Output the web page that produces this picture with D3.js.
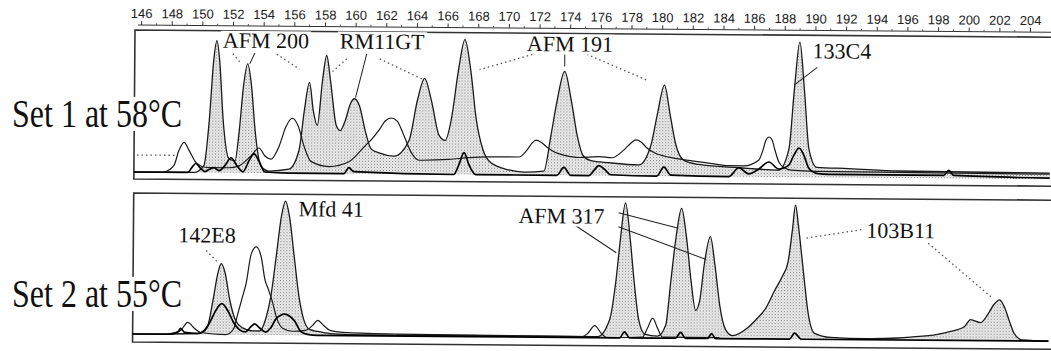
<!DOCTYPE html>
<html>
<head>
<meta charset="utf-8">
<script src="https://cdn.jsdelivr.net/npm/d3@7"></script>
<style>
  body { margin: 0; background: #fff; }
  svg { display: block; }
</style>
</head>
<body>
<svg id="chart" width="1051" height="351"></svg>
<script>
// fragment size ruler (bp)
const sizeTicks = [146, 148, 150, 152, 154, 156, 158, 160, 162, 164, 166, 168, 170, 172, 174,
  176, 178, 180, 182, 184, 186, 188, 190, 192, 194, 196, 198, 200, 202, 204];

const panelTitles = ['Set 1 at 58\u00B0C', 'Set 2 at 55\u00B0C'];

// traces: [size in bp, signal]
const set1Filled = [[145.61,0],[149.52,0],[150.17,7],[150.5,52],[150.76,112],[150.96,132],[151.15,112],[151.41,52],[151.81,14],[152.2,12],[152.46,42],[152.72,87],[152.98,109],[153.24,87],[153.5,42],[153.89,7],[154.41,2],[155.72,4],[156.37,23],[156.7,63],[157.02,91],[157.28,63],[157.55,48],[157.87,93],[158.13,118],[158.39,93],[158.79,48],[159.05,43],[159.37,53],[159.7,70],[159.96,75],[160.29,68],[160.68,43],[161.07,25],[161.59,21],[162.57,18],[163.55,34],[164.07,74],[164.53,96],[164.98,74],[165.5,39],[165.9,34],[166.29,55],[166.74,105],[167.14,135],[167.53,105],[167.92,55],[168.37,25],[168.9,12],[170.07,5],[171.05,3],[172.35,4],[172.81,41],[173.2,76],[173.66,104],[174.11,75],[174.51,40],[174.9,20],[175.42,15],[176.59,13],[178.55,11],[179.33,31],[179.72,61],[180.18,91],[180.57,61],[180.96,31],[181.49,16],[182.46,12],[185.07,9],[187.68,7],[188.33,28],[188.66,88],[188.99,135],[189.31,88],[189.64,28],[190.16,10],[192.25,9],[195.51,7],[205.36,6]];

const set1Outline = [[147.57,0],[148.22,7],[148.54,22],[148.87,30],[149.2,22],[149.65,10],[150.04,6],[150.5,5],[151.81,5],[152.46,7],[153.24,17],[153.76,25],[154.15,17],[154.55,14],[155.07,27],[155.52,47],[155.92,55],[156.31,47],[156.7,27],[157.15,12],[158.33,7],[159.63,12],[160.68,28],[161.07,34],[161.59,44],[161.98,53],[162.37,56],[162.76,53],[163.22,38],[163.68,22],[164.2,14],[166.16,15],[167.46,17],[168.77,18],[170.72,18],[171.24,25],[171.57,32],[171.83,35],[172.16,33],[172.55,28],[173.07,23],[173.72,20],[174.64,18],[175.94,19],[176.79,18],[177.57,26],[178.03,33],[178.35,36],[178.68,34],[179.07,28],[179.59,23],[180.51,19],[181.81,16],[183.31,13],[184.42,11],[185.4,11],[186.38,17],[186.64,27],[186.83,37],[187.03,40],[187.23,37],[187.42,27],[187.68,15],[188.07,9],[188.47,7],[190.16,6],[205.36,5]];

const set1Dark = [[145.61,0],[149.13,0],[149.39,5],[149.65,9],[149.91,5],[150.24,1],[150.5,3],[150.83,5],[151.15,2],[151.54,7],[151.94,15],[152.33,7],[152.72,1],[153.11,12],[153.44,19],[153.76,12],[154.15,1],[155.72,0],[159.31,0],[159.63,6],[159.96,2],[166.48,0],[166.81,10],[167.14,22],[167.46,10],[167.92,0],[173.2,0],[173.66,8],[174.11,0],[175.29,0],[175.61,5],[175.94,10],[176.33,6],[176.72,1],[179.72,0],[180.18,9],[180.64,1],[184.42,0],[185.07,9],[185.73,3],[186.38,8],[187.03,15],[187.68,8],[188.33,12],[188.66,22],[188.99,29],[189.31,22],[189.64,9],[190.16,4],[190.94,3],[198.45,3],[198.77,8],[199.1,3],[205.36,1]];

const set2Filled = [[145.61,0],[149.85,1],[150.5,9],[150.83,34],[151.15,62],[151.35,71],[151.61,62],[151.94,34],[152.33,14],[152.78,7],[153.44,4],[153.89,4],[154.28,16],[154.61,39],[154.94,79],[155.26,119],[155.52,134],[155.78,119],[156.11,79],[156.44,39],[156.76,16],[157.15,6],[157.68,4],[158.52,2],[160.94,1],[175.94,1],[176.72,18],[177.12,58],[177.38,98],[177.7,135],[178.03,98],[178.29,58],[178.62,18],[179.01,4],[179.85,2],[180.38,13],[180.7,58],[181.03,103],[181.36,130],[181.68,103],[182.01,58],[182.33,28],[182.59,38],[182.86,73],[183.25,102],[183.57,73],[183.9,33],[184.29,9],[184.75,3],[185.73,11],[186.38,21],[186.83,29],[187.49,49],[188.01,64],[188.33,77],[188.6,109],[188.79,134],[188.99,114],[189.18,89],[189.44,54],[189.64,29],[190.1,6],[191.14,2],[193.55,1],[195.51,2],[196.36,3],[198.12,6],[198.97,9],[199.88,14],[200.27,21],[200.92,18],[201.38,26],[201.77,36],[202.16,41],[202.49,33],[202.82,19],[203.14,7],[203.66,1],[205.36,0]];

const set2Outline = [[147.89,0],[148.74,4],[149.2,12],[149.65,6],[150.04,2],[151.68,0],[152.2,6],[152.46,21],[152.72,36],[152.98,51],[153.31,81],[153.63,88],[153.96,78],[154.22,55],[154.41,47],[154.68,35],[155.0,17],[155.39,7],[156.05,4],[156.89,5],[157.35,10],[157.68,15],[158.07,10],[158.52,5],[159.63,3],[162.89,2],[174.96,1],[175.29,4],[175.75,12],[176.2,4],[176.59,0],[178.88,1],[179.2,10],[179.53,20],[179.85,10],[180.18,1],[183.9,1]];

const set2Dark = [[145.61,0],[147.89,0],[148.54,2],[148.74,6],[149.0,2],[149.85,1],[150.31,4],[150.7,14],[151.02,24],[151.41,31],[151.81,24],[152.2,12],[152.59,5],[152.98,3],[153.31,8],[153.57,11],[153.89,7],[154.28,3],[154.61,7],[154.94,16],[155.26,20],[155.52,21],[155.85,19],[156.18,14],[156.57,4],[157.02,1],[157.68,0],[177.38,0],[177.7,6],[178.03,0],[181.03,0],[181.36,6],[181.68,0],[183.12,0],[183.38,5],[183.64,0],[188.47,0],[188.79,6],[189.25,0],[205.36,0]];

// marker names: text, size (bp) and signal of the text baseline
const set1Labels = [
  { text: 'AFM 200', bp: 151.35, v: 125 },
  { text: 'RM11GT', bp: 158.98, v: 125 },
  { text: 'AFM 191', bp: 171.18, v: 124 },
  { text: '133C4', bp: 189.83, v: 119 }
];
const set2Labels = [
  { text: '142E8', bp: 148.54, v: 92 },
  { text: 'Mfd 41', bp: 156.37, v: 119 },
  { text: 'AFM 317', bp: 170.72, v: 114 },
  { text: '103B11', bp: 193.42, v: 102 }
];

// leader lines from names to peaks
const set1Leaders = [
  { from: [152.0, 119], to: [152.46, 111], dash: true },
  { from: [153.44, 120], to: [153.11, 109], dash: false },
  { from: [154.87, 119], to: [156.37, 104], dash: true },
  { from: [159.44, 115], to: [158.52, 102], dash: true },
  { from: [160.74, 120], to: [160.03, 76], dash: false },
  { from: [161.59, 115], to: [164.39, 95], dash: true },
  { from: [171.83, 122], to: [168.11, 105], dash: true },
  { from: [173.66, 121], to: [173.66, 109], dash: false },
  { from: [174.83, 123], to: [179.01, 96], dash: true },
  { from: [190.14, 110], to: [188.64, 92], dash: false },
  { from: [145.8, 17], to: [148.35, 17], dash: true }
];
const set2Leaders = [
  { from: [150.37, 84], to: [151.15, 72], dash: true },
  { from: [177.25, 125], to: [181.16, 110], dash: false },
  { from: [177.25, 111], to: [182.99, 79], dash: false },
  { from: [174.44, 112], to: [177.12, 85], dash: false },
  { from: [193.1, 110], to: [189.44, 101], dash: true },
  { from: [197.47, 97], to: [201.58, 44], dash: true }
];

const W = 1051, H = 351;
const frameLeft = 135;
const serif = "'Liberation Serif', 'Times New Roman', serif";

const svg = d3.select('#chart');
svg.append('rect').attr('width', W).attr('height', H).attr('fill', '#fff');

const defs = svg.append('defs');
const pat = defs.append('pattern')
  .attr('id', 'stipple')
  .attr('width', 3).attr('height', 3)
  .attr('patternUnits', 'userSpaceOnUse');
pat.append('rect').attr('width', 3).attr('height', 3).attr('fill', '#ededed');
pat.append('rect').attr('x', 0).attr('y', 0).attr('width', 1).attr('height', 1).attr('fill', '#7a7a7a');
pat.append('rect').attr('x', 1.5).attr('y', 1.5).attr('width', 1).attr('height', 1).attr('fill', '#b0b0b0');

const x = d3.scaleLinear().domain([146, 204]).range([141, 1030]);

// the scanned figure is slightly tilted
const plot = svg.append('g').attr('transform', 'rotate(0.45,135,30)');

// ruler on top
const rulerY = 25;
plot.append('line')
  .attr('x1', frameLeft + 3).attr('x2', W + 10)
  .attr('y1', rulerY).attr('y2', rulerY)
  .attr('stroke', '#333').attr('stroke-width', 1);

const axisG = plot.append('g')
  .attr('transform', `translate(0,${rulerY})`)
  .call(d3.axisTop(x).tickValues(sizeTicks).tickSize(4).tickSizeOuter(0).tickPadding(3));
axisG.select('.domain').remove();
axisG.selectAll('.tick line').attr('stroke', '#333');
axisG.selectAll('.tick text')
  .attr('font-family', "'Liberation Sans', Arial, sans-serif")
  .attr('font-size', 13)
  .attr('fill', '#222');

plot.append('g').selectAll('line')
  .data(sizeTicks.slice(0, -1).map(d => d + 1))
  .join('line')
  .attr('x1', d => x(d)).attr('x2', d => x(d))
  .attr('y1', rulerY).attr('y2', rulerY - 2)
  .attr('stroke', '#555');

const panels = [
  { top: 30, bottom: 179, base: 172, filled: set1Filled, outline: set1Outline, dark: set1Dark,
    labels: set1Labels, leaders: set1Leaders, titleY: 127 },
  { top: 193, bottom: 342, base: 334, filled: set2Filled, outline: set2Outline, dark: set2Dark,
    labels: set2Labels, leaders: set2Leaders, titleY: 307 }
];

panels.forEach(p => {
  const y = d3.scaleLinear().domain([0, 142]).range([p.base, p.base - 142]);
  const g = plot.append('g');

  // frame, open on the right
  g.append('path')
    .attr('d', `M${W + 10},${p.top}H${frameLeft}V${p.bottom}H${W + 10}`)
    .attr('fill', 'none')
    .attr('stroke', '#333')
    .attr('stroke-width', 1.6);

  const area = d3.area()
    .x(d => x(d[0]))
    .y0(y(0))
    .y1(d => y(d[1]))
    .curve(d3.curveMonotoneX);
  const line = d3.line()
    .x(d => x(d[0]))
    .y(d => y(d[1]))
    .curve(d3.curveMonotoneX);

  g.append('path').datum(p.filled)
    .attr('d', area)
    .attr('fill', 'url(#stipple)');
  g.append('path').datum(p.filled)
    .attr('d', line)
    .attr('fill', 'none')
    .attr('stroke', '#1a1a1a')
    .attr('stroke-width', 1.3);
  g.append('path').datum(p.outline)
    .attr('d', line)
    .attr('fill', 'none')
    .attr('stroke', '#1a1a1a')
    .attr('stroke-width', 1.2);
  g.append('path').datum(p.dark)
    .attr('d', line)
    .attr('fill', 'none')
    .attr('stroke', '#000')
    .attr('stroke-width', 1.7);

  g.selectAll('line.leader')
    .data(p.leaders)
    .join('line')
    .attr('class', 'leader')
    .attr('x1', d => x(d.from[0])).attr('y1', d => y(d.from[1]))
    .attr('x2', d => x(d.to[0])).attr('y2', d => y(d.to[1]))
    .attr('stroke', d => d.dash ? '#555' : '#222')
    .attr('stroke-width', d => d.dash ? 1.3 : 1)
    .attr('stroke-dasharray', d => d.dash ? '1.5,3' : null);

  p.labels.forEach(l => {
    const t = g.append('text')
      .attr('x', x(l.bp))
      .attr('y', y(l.v))
      .attr('font-family', serif)
      .attr('font-size', 22)
      .attr('fill', '#111')
      .text(l.text);
    const b = t.node().getBBox();
    g.insert('rect', () => t.node())
      .attr('x', b.x - 2).attr('y', b.y + 3)
      .attr('width', b.width + 4).attr('height', b.height - 5)
      .attr('fill', '#fff');
  });
});

// panel titles on the left, slightly tall letters as in the scan
panels.forEach((p, i) => {
  const tg = svg.append('g')
    .attr('transform', `translate(12,${p.titleY}) scale(1,1.22)`);
  const t = tg.append('text')
    .attr('x', 0)
    .attr('y', 0)
    .attr('font-family', serif)
    .attr('font-size', 32)
    .attr('fill', '#111')
    .text(panelTitles[i]);
  const b = t.node().getBBox();
  tg.insert('rect', () => t.node())
    .attr('x', b.x - 2).attr('y', b.y + 4)
    .attr('width', b.width + 4).attr('height', b.height - 8)
    .attr('fill', '#fff');
});
</script>
</body>
</html>
